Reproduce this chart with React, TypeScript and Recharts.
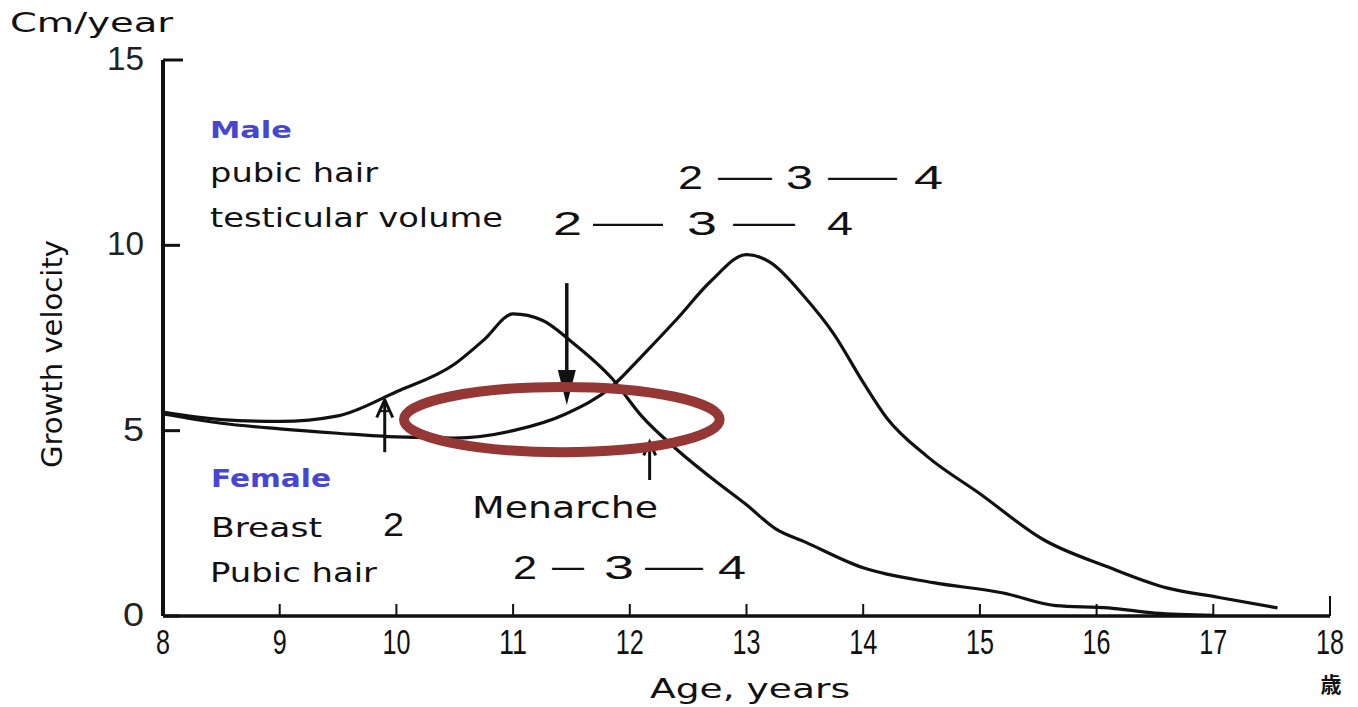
import React from "react"
import { LineChart, Line, XAxis, YAxis, ReferenceArea, ReferenceLine } from "recharts"

// growth velocity (cm/year)
const femaleAges = [8, 8.5, 9, 9.5, 10, 10.5, 10.75, 11, 11.25, 11.5, 11.85, 12.1, 12.4, 12.75, 13, 13.25, 13.5, 14, 14.6, 15.2, 15.65, 16.1, 16.5, 17]
const femaleVelocity = [5.5, 5.3, 5.25, 5.4, 6.05, 6.8, 7.45, 8.15, 7.98, 7.4, 6.4, 5.4, 4.5, 3.6, 3.0, 2.35, 2.0, 1.3, 0.9, 0.62, 0.28, 0.22, 0.08, 0.02]

const maleAges = [8, 8.5, 9, 9.5, 10, 10.5, 11, 11.45, 11.85, 12.1, 12.4, 12.7, 13, 13.2, 13.5, 13.75, 14, 14.2, 14.55, 15, 15.55, 16.1, 16.6, 17.05, 17.55]
const maleVelocity = [5.45, 5.2, 5.05, 4.93, 4.83, 4.8, 5.0, 5.45, 6.2, 7.0, 8.0, 9.05, 9.75, 9.55, 8.6, 7.6, 6.3, 5.35, 4.3, 3.3, 2.05, 1.32, 0.76, 0.5, 0.22]

const xTicks = [8, 9, 10, 11, 12, 13, 14, 15, 16, 17, 18]
const yTicks = [0, 5, 10, 15]

// stage markers: [age, from, to]
const breastArrow = [9.9, 4.42, 5.83]
const pubicArrow = [11.46, 8.98, 5.69]
const menarcheArrow = [12.17, 3.67, 4.69]
// highlighted region
const ringAges = [10.065, 12.77]
const ringVelocity = [4.42, 6.18]

const femaleData = femaleAges.map((age, i) => ({ age, v: femaleVelocity[i] }))
const maleData = maleAges.map((age, i) => ({ age, v: maleVelocity[i] }))

const hand = "'DejaVu Sans', sans-serif"
const plain = "'Liberation Sans', Arial, sans-serif"
const ink = "#111"
const blue = "#4646d2"

const XTick = (props: any) => {
    const { x, y, payload } = props
    const label = String(payload.value)
    const last = payload.value === 18
    return (
        <g>
            <line x1={x} x2={x} y1={y} y2={y - (last ? 20 : 12)} stroke={ink} strokeWidth={2} />
            <text x={x} y={y + 38} textAnchor="middle" fontFamily={plain} fontSize={35} fill={ink}
                textLength={label.length * 14} lengthAdjust="spacingAndGlyphs">{label}</text>
        </g>
    )
}

const YTick = (props: any) => {
    const { x, y, payload } = props
    const label = String(payload.value)
    return (
        <g>
            <line x1={x} x2={x + (payload.value === 15 ? 20 : 17)} y1={y} y2={y} stroke={ink} strokeWidth={3} />
            <text x={x - 19} y={y + 10} textAnchor="end" fontFamily={plain} fontSize={33} fill="#222"
                textLength={label.length === 1 ? 21 : 37} lengthAdjust="spacingAndGlyphs">{label}</text>
        </g>
    )
}

const openArrow = (size: number) => (p: any) => {
    const { x1, y1, x2, y2 } = p
    const tipY = Math.min(y1, y2)
    const baseY = Math.max(y1, y2)
    return (
        <g stroke={ink} strokeWidth={3} fill="none">
            <line x1={x1} x2={x2} y1={baseY} y2={tipY} />
            <polyline points={`${x1 - size},${tipY + size * 2.2} ${x1},${tipY} ${x1 + size},${tipY + size * 2.2}`} />
            {size > 6 && <line x1={x1 - size * 0.6} x2={x1 + size * 0.6} y1={tipY + size * 1.4} y2={tipY + size * 1.4} strokeWidth={2} />}
        </g>
    )
}

const downArrow = (p: any) => {
    const { x1, y1, x2, y2 } = p
    const top = Math.min(y1, y2)
    const tip = Math.max(y1, y2)
    return (
        <g>
            <line x1={x1} x2={x2} y1={top} y2={tip - 20} stroke={ink} strokeWidth={3.5} />
            <polygon points={`${x1 - 9},${tip - 35} ${x1 + 9},${tip - 35} ${x1},${tip}`} fill={ink} />
        </g>
    )
}

const ring = (p: any) => (
    <ellipse cx={p.x + p.width / 2} cy={p.y + p.height / 2} rx={p.width / 2} ry={p.height / 2}
        fill="none" stroke="#953735" strokeWidth={10} />
)

type Tok = { t: string; x: number; w: number }

const StageRow = ({ y, toks }: { y: number; toks: Tok[] }) => (
    <g>
        {toks.map((k, i) => (
            <text key={i} x={k.x} y={k.t === "—" ? y - 2 : y} fontFamily={plain} fontSize={33} fill={ink}
                textLength={k.w} lengthAdjust="spacingAndGlyphs">{k.t}</text>
        ))}
    </g>
)

const HandText = ({ x, y, w, size, children, color = ink, bold = false }: any) => (
    <text x={x} y={y} fontFamily={hand} fontSize={size} fill={color} fontWeight={bold ? 700 : 400}
        textLength={w} lengthAdjust="spacingAndGlyphs">{children}</text>
)

export default function App() {
    return (
        <div style={{ position: "absolute", left: 0, top: 0, width: 1358, height: 707, background: "#fff" }}>
            <LineChart width={1358} height={707} margin={{ top: 60, right: 28, bottom: 11, left: 13 }}>
                <XAxis dataKey="age" type="number" domain={[8, 18]} ticks={xTicks} allowDataOverflow
                    height={80} tickSize={0} tickMargin={0} tickLine={false} tick={<XTick />}
                    axisLine={{ stroke: ink, strokeWidth: 3.5 }} />
                <YAxis type="number" domain={[0, 15]} ticks={yTicks} allowDataOverflow
                    width={150} tickSize={0} tickMargin={0} tickLine={false} tick={<YTick />}
                    axisLine={{ stroke: ink, strokeWidth: 4 }} />
                <Line data={maleData} dataKey="v" type="monotone" stroke={ink} strokeWidth={3.2}
                    dot={false} isAnimationActive={false} />
                <Line data={femaleData} dataKey="v" type="monotone" stroke={ink} strokeWidth={3.2}
                    dot={false} isAnimationActive={false} />
                <ReferenceLine segment={[{ x: breastArrow[0], y: breastArrow[1] }, { x: breastArrow[0], y: breastArrow[2] }]}
                    shape={openArrow(8)} />
                <ReferenceLine segment={[{ x: pubicArrow[0], y: pubicArrow[1] }, { x: pubicArrow[0], y: pubicArrow[2] }]}
                    shape={downArrow} />
                <ReferenceLine segment={[{ x: menarcheArrow[0], y: menarcheArrow[1] }, { x: menarcheArrow[0], y: menarcheArrow[2] }]}
                    shape={openArrow(6)} />
                <ReferenceArea x1={ringAges[0]} x2={ringAges[1]} y1={ringVelocity[0]} y2={ringVelocity[1]}
                    shape={ring} zIndex={1000} />
            </LineChart>
            <svg width={1358} height={707} style={{ position: "absolute", left: 0, top: 0, pointerEvents: "none" }}>
                <HandText x={10} y={32} w={163} size={26}>Cm/year</HandText>
                <text x={62} y={354} transform="rotate(-90 62 354)" textAnchor="middle" fontFamily={hand}
                    fontSize={29} fill={ink} textLength={228} lengthAdjust="spacingAndGlyphs">Growth velocity</text>
                <HandText x={650} y={698} w={200} size={27}>Age, years</HandText>
                <text x={1331} y={692} textAnchor="middle" fontFamily="'Noto Sans CJK JP', sans-serif"
                    fontWeight={700} fontSize={21} fill={ink}>歳</text>

                <HandText x={210} y={138} w={82} size={23} color={blue} bold>Male</HandText>
                <HandText x={210} y={182} w={168} size={26}>pubic hair</HandText>
                <HandText x={210} y={227} w={293} size={26}>testicular volume</HandText>
                <StageRow y={189} toks={[
                    { t: "2", x: 678, w: 25 }, { t: "—", x: 718, w: 54 }, { t: "3", x: 786, w: 27 },
                    { t: "—", x: 828, w: 69 }, { t: "4", x: 914, w: 29 },
                ]} />
                <StageRow y={235} toks={[
                    { t: "2", x: 553, w: 29 }, { t: "—", x: 593, w: 70 }, { t: "3", x: 687, w: 30 },
                    { t: "—", x: 733, w: 62 }, { t: "4", x: 827, w: 26 },
                ]} />

                <HandText x={211} y={487} w={120} size={24} color={blue} bold>Female</HandText>
                <HandText x={211} y={537} w={111} size={27}>Breast</HandText>
                <text x={383} y={536} fontFamily={plain} fontSize={33} fill={ink} textLength={21}
                    lengthAdjust="spacingAndGlyphs">2</text>
                <HandText x={210} y={582} w={167} size={27}>Pubic hair</HandText>
                <HandText x={472} y={518} w={186} size={31}>Menarche</HandText>
                <StageRow y={579} toks={[
                    { t: "2", x: 513, w: 24 }, { t: "—", x: 552, w: 32 }, { t: "3", x: 604, w: 30 },
                    { t: "—", x: 645, w: 58 }, { t: "4", x: 718, w: 28 },
                ]} />
            </svg>
        </div>
    )
}
